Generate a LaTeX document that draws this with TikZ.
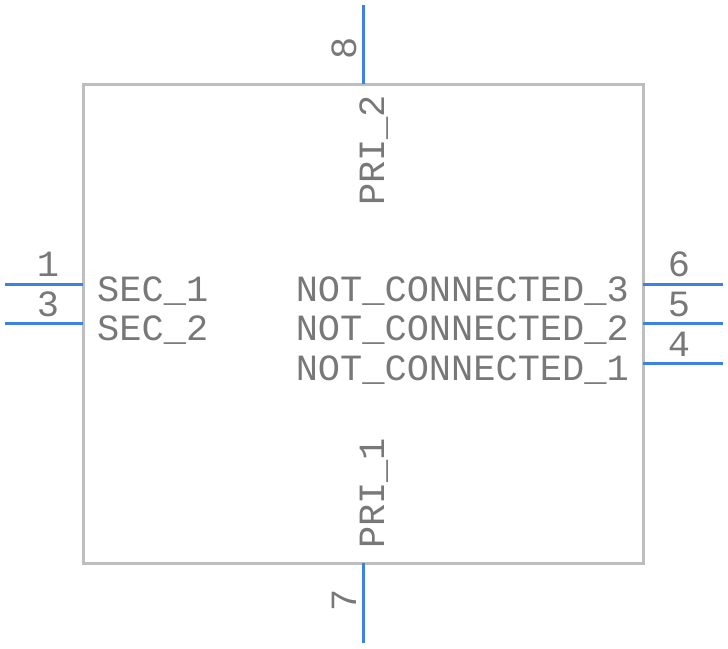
\documentclass[tikz,border=0pt]{standalone}
\usepackage{fontspec}
\setmonofont{Liberation Mono}
\definecolor{pin}{RGB}{60,130,230}
\definecolor{boxc}{RGB}{190,190,190}
\definecolor{txt}{RGB}{120,120,120}
\begin{document}
\begin{tikzpicture}[x=1pt,y=-1pt,
  lbl/.style={inner sep=0pt,text=txt,font=\ttfamily\fontsize{37}{37}\selectfont},
  pinl/.style={draw=pin,line width=3pt}]
\useasboundingbox (0,0) rectangle (728,648);
\draw[boxc,line width=3pt] (83,84) rectangle (643,563);
\coordinate (l1a) at (5,284); \coordinate (l1b) at (83,284);
\coordinate (l3a) at (5,323); \coordinate (l3b) at (83,323);
\coordinate (r6a) at (643,284); \coordinate (r6b) at (723,284);
\coordinate (r5a) at (643,323); \coordinate (r5b) at (723,323);
\coordinate (r4a) at (643,363); \coordinate (r4b) at (723,363);
\coordinate (t8a) at (363,5); \coordinate (t8b) at (363,84);
\coordinate (b7a) at (363,563); \coordinate (b7b) at (363,643);
\draw[pinl] (l1a)--(l1b); \draw[pinl] (l3a)--(l3b);
\draw[pinl] (r6a)--(r6b); \draw[pinl] (r5a)--(r5b); \draw[pinl] (r4a)--(r4b);
\draw[pinl] (t8a)--(t8b); \draw[pinl] (b7a)--(b7b);
\node[lbl,anchor=base] (n1) at (48,276) {1};
\node[lbl,anchor=base] (n3) at (48,316) {3};
\node[lbl,anchor=base] (n6) at (679,276) {6};
\node[lbl,anchor=base] (n5) at (679,316) {5};
\node[lbl,anchor=base] (n4) at (679,356) {4};
\node[lbl,anchor=base,rotate=90] (n8) at (356,48) {8};
\node[lbl,anchor=base,rotate=90] (n7) at (356,600) {7};
\node[lbl,anchor=base west] (s1) at (97,301) {SEC\_1};
\node[lbl,anchor=base west] (s2) at (97,340) {SEC\_2};
\node[lbl,anchor=base east] (c3) at (629,301) {NOT\_CONNECTED\_3};
\node[lbl,anchor=base east] (c2) at (629,340) {NOT\_CONNECTED\_2};
\node[lbl,anchor=base east] (c1) at (629,380) {NOT\_CONNECTED\_1};
\node[lbl,anchor=base west,rotate=90] (p2) at (384,206) {PRI\_2};
\node[lbl,anchor=base west,rotate=90] (p1) at (384,549) {PRI\_1};
\end{tikzpicture}
\end{document}
